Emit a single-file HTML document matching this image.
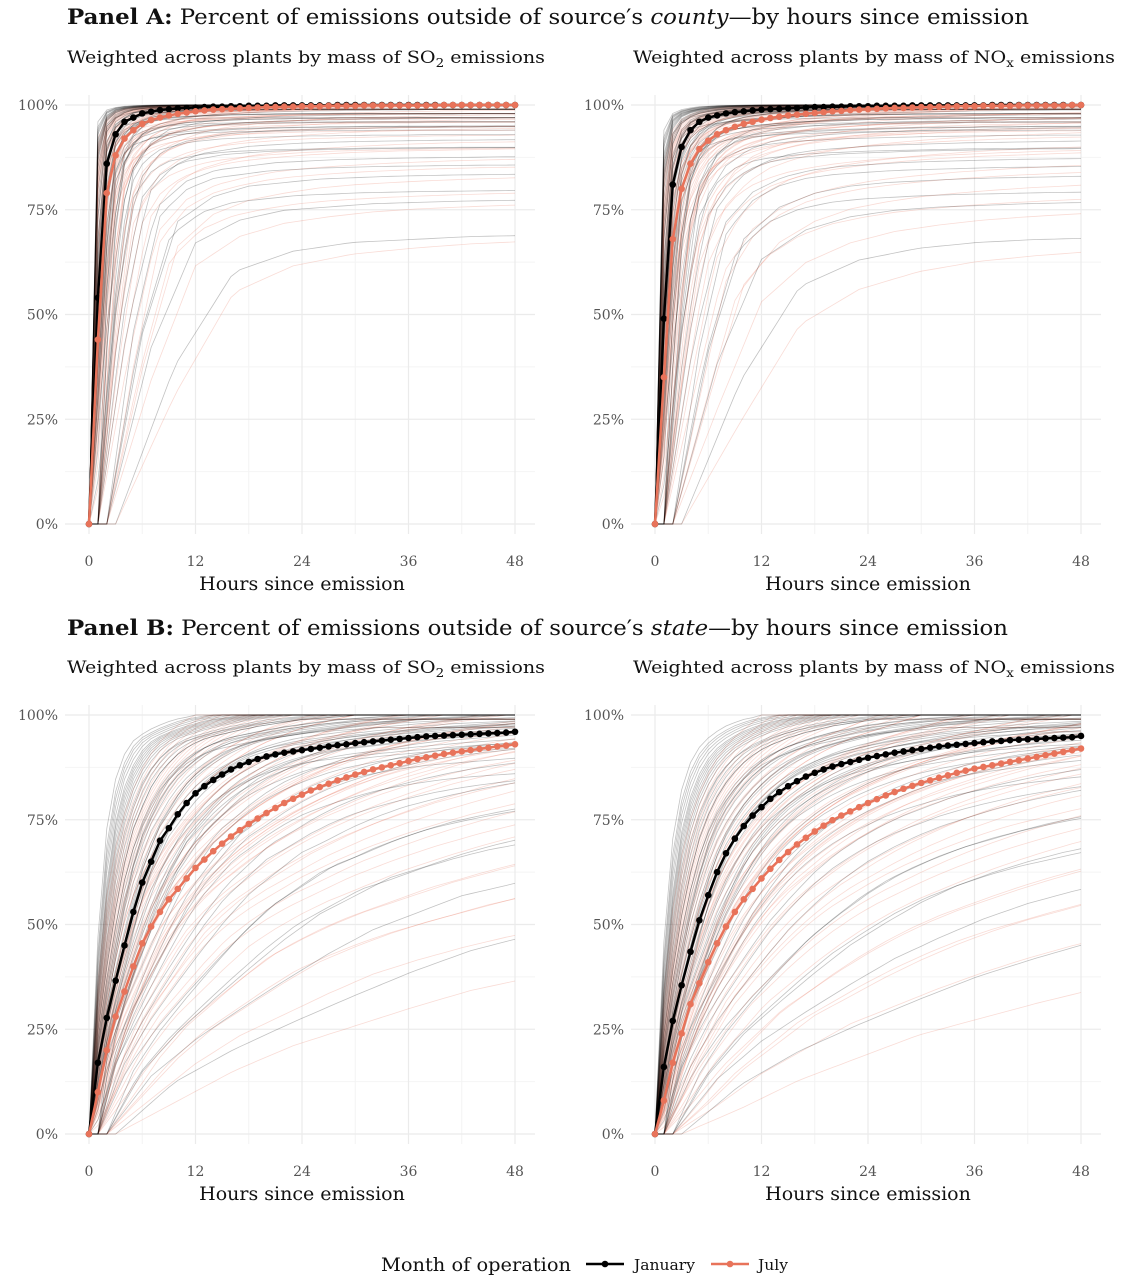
<!DOCTYPE html>
<html><head><meta charset="utf-8"><style>
html,body{margin:0;padding:0;background:#fff;}
svg{display:block;font-family:"DejaVu Serif","Liberation Serif",serif;}
</style></head><body>
<svg id="c" width="1144" height="1282" viewBox="0 0 1144 1282"></svg>
<script>
const hours=[...Array(49).keys()];
const xTicks=[0,12,24,36,48];
const yTicks=[0,25,50,75,100];
const yTickLabels=["0%","25%","50%","75%","100%"];
const aSO2Jan=[0,54,86,93,96,97,98,98.4,98.8,99,99.2,99.3,99.4,99.5,99.6,99.6,99.7,99.7,99.8,99.8,99.8,99.9,99.9,99.9,99.9,99.9,99.9,99.9,100,100,100,100,100,100,100,100,100,100,100,100,100,100,100,100,100,100,100,100,100];
const aSO2Jul=[0,44,79,88,92,94,95.5,96.4,97,97.5,97.9,98.2,98.5,98.7,98.9,99,99.1,99.2,99.3,99.4,99.5,99.5,99.6,99.6,99.7,99.7,99.7,99.8,99.8,99.8,99.8,99.9,99.9,99.9,99.9,99.9,99.9,99.9,99.9,99.9,100,100,100,100,100,100,100,100,100];
const aNOxJan=[0,49,81,90,94,96,97,97.5,98,98.3,98.5,98.7,98.9,99,99.1,99.2,99.3,99.4,99.5,99.5,99.6,99.6,99.7,99.7,99.7,99.8,99.8,99.8,99.8,99.9,99.9,99.9,99.9,99.9,99.9,99.9,99.9,99.9,100,100,100,100,100,100,100,100,100,100,100];
const aNOxJul=[0,35,68,80,86,89.5,91.5,93,94,94.8,95.5,96,96.5,96.9,97.2,97.5,97.7,97.9,98.1,98.3,98.5,98.6,98.8,98.9,99,99.1,99.2,99.3,99.3,99.4,99.5,99.5,99.6,99.6,99.7,99.7,99.7,99.8,99.8,99.8,99.8,99.9,99.9,99.9,99.9,99.9,99.9,100,100];
const bSO2Jan=[0,17,27.7,36.6,45,53,60,65,70,73,76.3,79,81.3,83,84.5,85.8,87,88,88.8,89.5,90.1,90.6,91,91.3,91.6,91.9,92.2,92.5,92.8,93,93.3,93.5,93.7,93.9,94.1,94.3,94.5,94.7,94.9,95,95.1,95.2,95.3,95.4,95.5,95.6,95.7,95.8,96];
const bSO2Jul=[0,10,20,28,34,40,45.5,49.5,53,56,58.5,61,63.5,65.5,67.5,69.3,71,72.5,74,75.3,76.6,77.8,79,80,81,82,82.8,83.6,84.4,85.1,85.8,86.4,87,87.5,88,88.5,89,89.5,89.9,90.3,90.7,91,91.3,91.6,91.9,92.2,92.5,92.7,93];
const bNOxJan=[0,16,27,35.5,43.5,51,57,62.5,67,70.5,73.5,76,78,80,81.6,83,84.2,85.3,86.2,87,87.7,88.3,88.8,89.3,89.8,90.2,90.6,91,91.3,91.6,91.9,92.2,92.5,92.7,92.9,93.1,93.3,93.5,93.7,93.8,94,94.1,94.2,94.3,94.4,94.5,94.6,94.7,95];
const bNOxJul=[0,8,17,24,31,36,41,45.5,49.5,53,56,58.5,61,63.3,65.4,67.3,69.1,70.7,72.2,73.6,74.9,76,77,78,79,79.9,80.8,81.6,82.4,83.1,83.8,84.4,85,85.6,86.2,86.7,87.2,87.6,88,88.4,88.8,89.2,89.6,90,90.4,90.8,91.2,91.6,92];
// per-plant variation parameters (time speed factor, plateau, lag hours)
const plantSpeed=[0.15,0.2,0.25,0.3,0.35,0.4,0.45,0.5,0.55,0.6,0.65,0.7,0.75,0.8,0.85,0.9,0.95,1,1.05,1.1,1.2,1.3,1.4,1.5,1.6,1.8,2,2.2,2.5,2.8,3.2,3.6,4,0.33,0.42,0.58,0.72,0.88,1.15,1.35,1.7,2.4,3,0.28,0.52,0.68,0.95,1.25,1.9,2.7,1.1,1.45,2.1,2.6,3.4,0.78,0.62,1.02,1.6,2.3];
const plantCap=[0.7,0.78,0.84,0.88,0.92,0.95,0.97,0.98,0.99,1,1,1,1,0.97,0.94,1,0.99,0.98,1,0.96,1,0.99,1,0.97,1,1,0.99,1,1,1,1,1,1,0.86,0.9,0.93,0.96,0.98,0.99,1,1,1,1,0.8,0.9,0.95,0.98,1,1,1,1,0.99,1,1,1,0.97,0.95,1,1,1];
const plantLag=[3,2,2,1,1,0.5,0,1,0,0,0.5,0,0,1,0,0,0.5,0,0,1,0,0,0.5,0,0,0,0,0,0,0,0,0,0,2,1,1,0,0,0,0,0,0,0,2,1,0,0,0,0,0,0.5,0,0,0,0,1,1,0,0,0];

const NS="http://www.w3.org/2000/svg";
const svg=document.getElementById('c');
function mk(tag,attrs,parent){const e=document.createElementNS(NS,tag);for(const k in attrs)e.setAttribute(k,attrs[k]);(parent||svg).appendChild(e);return e;}
function txt(s,x,y,size,fill,anchor,parent,name,len){const t=mk('text',{x:x,y:y,'font-size':size,fill:fill,'text-anchor':anchor||'start'},parent);


if(len){t.setAttribute('textLength',len);t.setAttribute('lengthAdjust','spacingAndGlyphs');}
t.innerHTML=s;return t;}
function interp(arr,t){if(t<=0)return 0;if(t>=48)return arr[48];const i=Math.floor(t),f=t-i;return arr[i]*(1-f)+arr[i+1]*f;}

function panel(ox,oy,jan,jul,id){
  const x0=ox,x1=ox+426,y0=oy,y1=oy-419;
  const X=h=>x0+(h/48)*(x1-x0), Y=v=>y0+(v/100)*(y1-y0);
  const g=mk('g',{});
  
  
  for(const h of [6,18,30,42]){mk('line',{x1:X(h),x2:X(h),y1:y0+10,y2:y1-10,stroke:'#f4f4f4','stroke-width':1},g);}
  for(const v of [12.5,37.5,62.5,87.5]){mk('line',{x1:x0-24,x2:x1+20,y1:Y(v),y2:Y(v),stroke:'#f4f4f4','stroke-width':1},g);}
  xTicks.forEach(h=>{mk('line',{x1:X(h),x2:X(h),y1:y0+10,y2:y1-10,stroke:'#ebebeb','stroke-width':1.2},g);
    txt(String(h),X(h),y0+42,14,'#555','middle',g,'x-tick-label');});
  yTicks.forEach((v,i)=>{mk('line',{x1:x0-24,x2:x1+20,y1:Y(v),y2:Y(v),stroke:'#ebebeb','stroke-width':1.2},g);
    txt(yTickLabels[i],x0-31,Y(v)+5,14,'#555','end',g,'y-tick-label');});
  txt('Hours since emission',(x0+x1)/2,y0+66,19,'#111','middle',g,'x-axis-title');
  const drawSpag=(arr,color,op)=>{
    const mx=arr[48];
    plantSpeed.forEach((k,pi)=>{
      let d='';hours.forEach(h=>{const v=plantCap[pi]*100*interp(arr,(h-plantLag[pi])*k)/mx;d+=(h?'L':'M')+X(h).toFixed(1)+','+Y(v).toFixed(1);});
      const p=mk('path',{d:d,fill:'none',stroke:color,'stroke-opacity':op,'stroke-width':0.8},g);
      
      
    });
  };
  drawSpag(jul,'#e8735a',0.25);
  drawSpag(jan,'#000',0.24);
  const drawMain=(arr,color,name)=>{
    let d='';hours.forEach(h=>{d+=(h?'L':'M')+X(h).toFixed(1)+','+Y(arr[h]).toFixed(1);});
    const p=mk('path',{d:d,fill:'none',stroke:color,'stroke-width':2.5},g);
    
    
    hours.forEach(h=>{const c=mk('circle',{cx:X(h),cy:Y(arr[h]),r:3.3,fill:color},g);
      
      });
  };
  drawMain(jan,'#000','january');
  drawMain(jul,'#e8735a','july');
}
txt('<tspan font-weight="bold">Panel A:</tspan> Percent of emissions outside of source′s <tspan font-style="italic">county</tspan>—by hours since emission',67,24,21,'#111','start',null,'panel-a-title',962);
txt('Weighted across plants by mass of SO<tspan font-size="12" dy="4">2</tspan><tspan dy="-4"> emissions</tspan>',67,63,17,'#111','start',null,'subtitle-a-so2',478);
txt('Weighted across plants by mass of NO<tspan font-size="12" dy="4">x</tspan><tspan dy="-4"> emissions</tspan>',633,63,17,'#111','start',null,'subtitle-a-nox',482);
txt('<tspan font-weight="bold">Panel B:</tspan> Percent of emissions outside of source′s <tspan font-style="italic">state</tspan>—by hours since emission',67,635,21,'#111','start',null,'panel-b-title',941);
txt('Weighted across plants by mass of SO<tspan font-size="12" dy="4">2</tspan><tspan dy="-4"> emissions</tspan>',67,673,17,'#111','start',null,'subtitle-b-so2',478);
txt('Weighted across plants by mass of NO<tspan font-size="12" dy="4">x</tspan><tspan dy="-4"> emissions</tspan>',633,673,17,'#111','start',null,'subtitle-b-nox',482);
panel(89,524,aSO2Jan,aSO2Jul,'panel-a-so2');
panel(655,524,aNOxJan,aNOxJul,'panel-a-nox');
panel(89,1134,bSO2Jan,bSO2Jul,'panel-b-so2');
panel(655,1134,bNOxJan,bNOxJul,'panel-b-nox');
const lg=mk('g',{});


txt('Month of operation',381,1271,19,'#111','start',lg,'legend-title',190);
mk('line',{x1:586,x2:624,y1:1264,y2:1264,stroke:'#000','stroke-width':2.5},lg);
mk('circle',{cx:605,cy:1264,r:3.3,fill:'#000'},lg);
txt('January',634,1270,15,'#111','start',lg,'legend-entry-january',61);
mk('line',{x1:711,x2:749,y1:1264,y2:1264,stroke:'#e8735a','stroke-width':2.5},lg);
mk('circle',{cx:730,cy:1264,r:3.3,fill:'#e8735a'},lg);
txt('July',758,1270,15,'#111','start',lg,'legend-entry-july',30);
</script>
</body></html>
